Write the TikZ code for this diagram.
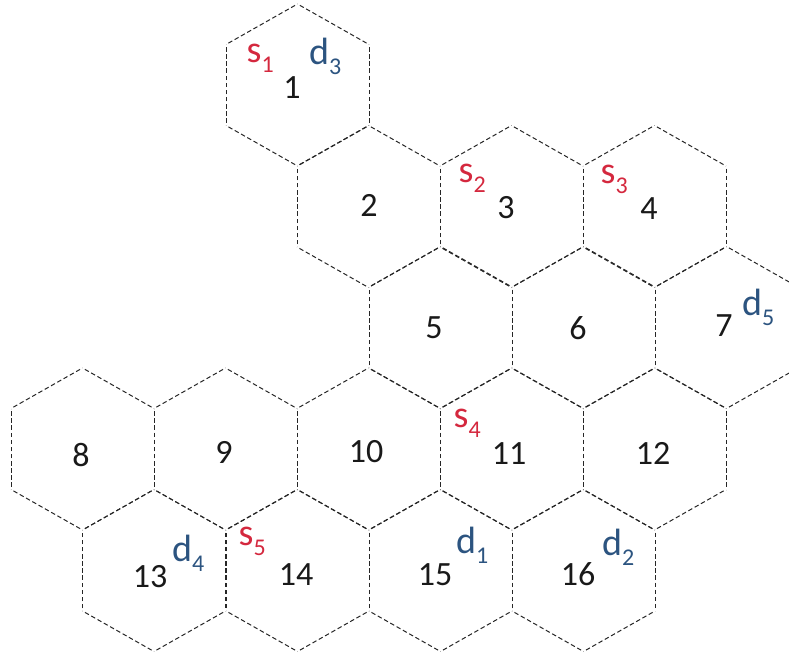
\documentclass[tikz,border=0pt]{standalone}
\usepackage{fontspec}
\setmainfont{Carlito}
\usepackage{tikz}
\usetikzlibrary{decorations}

\definecolor{srcred}{RGB}{212,40,62}
\definecolor{dstblue}{RGB}{44,84,128}
% etichetta con pedice (s_i, d_i)
\newcommand{\sublbl}[2]{#1\raisebox{-10pt}{\fontsize{24}{24}\selectfont #2}}

\begin{document}
\begin{tikzpicture}[
    x=1pt, y=-1pt,
    % Stili per celle ed etichette
    hexedge/.style={draw=black!85, line width=1pt, dash pattern=on 4.5pt off 2.2pt, dash expand off},
    cellnum/.style={font=\fontsize{34}{34}\selectfont, text=black!90, inner sep=0pt},
    srclbl/.style={font=\fontsize{38}{38}\selectfont, text=srcred, inner sep=0pt, anchor=base west},
    dstlbl/.style={font=\fontsize{38}{38}\selectfont, text=dstblue, inner sep=0pt, anchor=base west}
]
    \useasboundingbox (0,0) rectangle (789,658);
    \clip (0,0) rectangle (789,658);

    % Celle esagonali e numeri
    \foreach \n/\cx/\cy/\dx/\dy in {
        1/297.5/85/-5.5/3, 2/368.5/206.5/0.5/-1.5, 3/511.5/206.5/-5.5/1.5, 4/654.5/206.5/-5.5/2.5,
        5/440.5/327.5/-6.5/0.5, 6/583.5/327.5/-5.5/0.5, 7/726.5/327.5/-2.5/-1.5,
        8/82.5/449/-1.5/6, 9/225.5/449/-1.5/3, 10/368.5/449/-2.5/3, 11/511.5/449/-2.5/5, 12/654.5/449/-1.5/4,
        13/154/570.5/-4/6.5, 14/297.5/570.5/-1.5/4.5, 15/440.5/570.5/-5.5/4.5, 16/583.5/570.5/-5.5/3.5} {
        \coordinate (h\n) at (\cx,\cy);
        \foreach \a in {30,90,...,330}
            \draw[hexedge] ([shift={(\a:82.56 and 81)}]h\n) -- ([shift={(\a+60:82.56 and 81)}]h\n);
        \node[cellnum] (n\n) at ([shift={(\dx,\dy)}]h\n) {\n};
    }

    % Sorgenti
    \node[srclbl] (s1) at ([shift={(-51,-22)}]h1) {\sublbl{s}{1}};
    \node[srclbl] (s2) at ([shift={(-53,-24.5)}]h3) {\sublbl{s}{2}};
    \node[srclbl] (s3) at ([shift={(-54,-23.5)}]h4) {\sublbl{s}{3}};
    \node[srclbl] (s4) at ([shift={(-58,-22)}]h11) {\sublbl{s}{4}};
    \node[srclbl] (s5) at ([shift={(-59,-25.5)}]h14) {\sublbl{s}{5}};

    % Destinazioni
    \node[dstlbl] (d1) at ([shift={(15.5,-17.5)}]h15) {\sublbl{d}{1}};
    \node[dstlbl] (d2) at ([shift={(18.5,-15.5)}]h16) {\sublbl{d}{2}};
    \node[dstlbl] (d3) at ([shift={(11.5,-20)}]h1) {\sublbl{d}{3}};
    \node[dstlbl] (d4) at ([shift={(18,-9)}]h13) {\sublbl{d}{4}};
    \node[dstlbl] (d5) at ([shift={(15.5,-12.5)}]h7) {\sublbl{d}{5}};

\end{tikzpicture}
\end{document}
